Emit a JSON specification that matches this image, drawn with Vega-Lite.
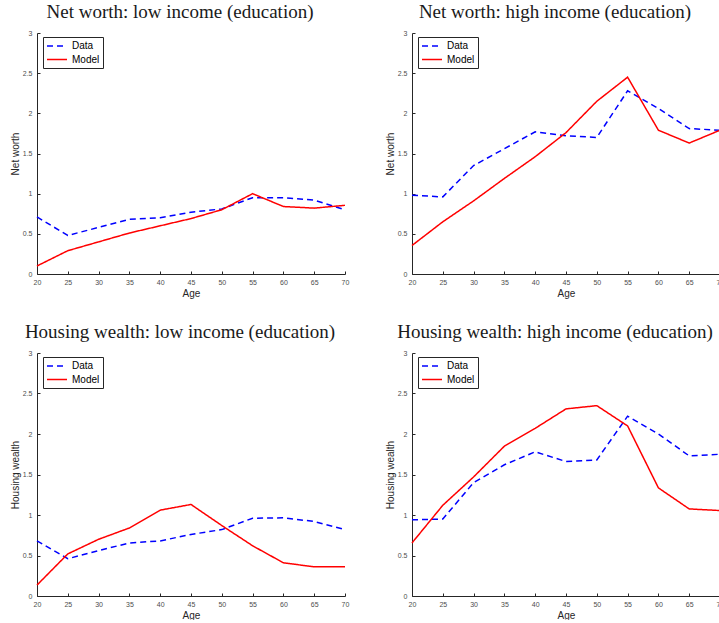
{
  "$schema": "https://vega.github.io/schema/vega-lite/v6.json",
  "background": "white",
  "padding": {"left": 10, "top": 3, "right": 0, "bottom": 0},
  "datasets": {
    "d": [
      {"panel": "A", "age": 20, "series": "Data", "value": 0.71},
      {"panel": "A", "age": 25, "series": "Data", "value": 0.48},
      {"panel": "A", "age": 30, "series": "Data", "value": 0.58},
      {"panel": "A", "age": 35, "series": "Data", "value": 0.68},
      {"panel": "A", "age": 40, "series": "Data", "value": 0.70},
      {"panel": "A", "age": 45, "series": "Data", "value": 0.77},
      {"panel": "A", "age": 50, "series": "Data", "value": 0.81},
      {"panel": "A", "age": 55, "series": "Data", "value": 0.95},
      {"panel": "A", "age": 60, "series": "Data", "value": 0.95},
      {"panel": "A", "age": 65, "series": "Data", "value": 0.92},
      {"panel": "A", "age": 70, "series": "Data", "value": 0.80},
      {"panel": "A", "age": 20, "series": "Model", "value": 0.10},
      {"panel": "A", "age": 25, "series": "Model", "value": 0.29},
      {"panel": "A", "age": 30, "series": "Model", "value": 0.40},
      {"panel": "A", "age": 35, "series": "Model", "value": 0.51},
      {"panel": "A", "age": 40, "series": "Model", "value": 0.60},
      {"panel": "A", "age": 45, "series": "Model", "value": 0.69},
      {"panel": "A", "age": 50, "series": "Model", "value": 0.80},
      {"panel": "A", "age": 55, "series": "Model", "value": 1.00},
      {"panel": "A", "age": 60, "series": "Model", "value": 0.84},
      {"panel": "A", "age": 65, "series": "Model", "value": 0.82},
      {"panel": "A", "age": 70, "series": "Model", "value": 0.855},
      {"panel": "B", "age": 20, "series": "Data", "value": 0.98},
      {"panel": "B", "age": 25, "series": "Data", "value": 0.96},
      {"panel": "B", "age": 30, "series": "Data", "value": 1.35},
      {"panel": "B", "age": 35, "series": "Data", "value": 1.56},
      {"panel": "B", "age": 40, "series": "Data", "value": 1.77},
      {"panel": "B", "age": 45, "series": "Data", "value": 1.72},
      {"panel": "B", "age": 50, "series": "Data", "value": 1.70},
      {"panel": "B", "age": 55, "series": "Data", "value": 2.28},
      {"panel": "B", "age": 60, "series": "Data", "value": 2.06},
      {"panel": "B", "age": 65, "series": "Data", "value": 1.81},
      {"panel": "B", "age": 70, "series": "Data", "value": 1.79},
      {"panel": "B", "age": 20, "series": "Model", "value": 0.355},
      {"panel": "B", "age": 25, "series": "Model", "value": 0.65},
      {"panel": "B", "age": 30, "series": "Model", "value": 0.91},
      {"panel": "B", "age": 35, "series": "Model", "value": 1.19},
      {"panel": "B", "age": 40, "series": "Model", "value": 1.46},
      {"panel": "B", "age": 45, "series": "Model", "value": 1.76},
      {"panel": "B", "age": 50, "series": "Model", "value": 2.15},
      {"panel": "B", "age": 55, "series": "Model", "value": 2.45},
      {"panel": "B", "age": 60, "series": "Model", "value": 1.79},
      {"panel": "B", "age": 65, "series": "Model", "value": 1.63},
      {"panel": "B", "age": 70, "series": "Model", "value": 1.79},
      {"panel": "C", "age": 20, "series": "Data", "value": 0.68},
      {"panel": "C", "age": 25, "series": "Data", "value": 0.46},
      {"panel": "C", "age": 30, "series": "Data", "value": 0.56},
      {"panel": "C", "age": 35, "series": "Data", "value": 0.655},
      {"panel": "C", "age": 40, "series": "Data", "value": 0.68},
      {"panel": "C", "age": 45, "series": "Data", "value": 0.76},
      {"panel": "C", "age": 50, "series": "Data", "value": 0.82},
      {"panel": "C", "age": 55, "series": "Data", "value": 0.96},
      {"panel": "C", "age": 60, "series": "Data", "value": 0.965},
      {"panel": "C", "age": 65, "series": "Data", "value": 0.92},
      {"panel": "C", "age": 70, "series": "Data", "value": 0.82},
      {"panel": "C", "age": 20, "series": "Model", "value": 0.135},
      {"panel": "C", "age": 25, "series": "Model", "value": 0.52},
      {"panel": "C", "age": 30, "series": "Model", "value": 0.70},
      {"panel": "C", "age": 35, "series": "Model", "value": 0.84},
      {"panel": "C", "age": 40, "series": "Model", "value": 1.06},
      {"panel": "C", "age": 45, "series": "Model", "value": 1.13},
      {"panel": "C", "age": 50, "series": "Model", "value": 0.87},
      {"panel": "C", "age": 55, "series": "Model", "value": 0.62},
      {"panel": "C", "age": 60, "series": "Model", "value": 0.41},
      {"panel": "C", "age": 65, "series": "Model", "value": 0.36},
      {"panel": "C", "age": 70, "series": "Model", "value": 0.36},
      {"panel": "D", "age": 20, "series": "Data", "value": 0.94},
      {"panel": "D", "age": 25, "series": "Data", "value": 0.95},
      {"panel": "D", "age": 30, "series": "Data", "value": 1.40},
      {"panel": "D", "age": 35, "series": "Data", "value": 1.62},
      {"panel": "D", "age": 40, "series": "Data", "value": 1.78},
      {"panel": "D", "age": 45, "series": "Data", "value": 1.66},
      {"panel": "D", "age": 50, "series": "Data", "value": 1.68},
      {"panel": "D", "age": 55, "series": "Data", "value": 2.22},
      {"panel": "D", "age": 60, "series": "Data", "value": 2.00},
      {"panel": "D", "age": 65, "series": "Data", "value": 1.73},
      {"panel": "D", "age": 70, "series": "Data", "value": 1.75},
      {"panel": "D", "age": 20, "series": "Model", "value": 0.655},
      {"panel": "D", "age": 25, "series": "Model", "value": 1.12},
      {"panel": "D", "age": 30, "series": "Model", "value": 1.47},
      {"panel": "D", "age": 35, "series": "Model", "value": 1.85},
      {"panel": "D", "age": 40, "series": "Model", "value": 2.07},
      {"panel": "D", "age": 45, "series": "Model", "value": 2.31},
      {"panel": "D", "age": 50, "series": "Model", "value": 2.35},
      {"panel": "D", "age": 55, "series": "Model", "value": 2.10},
      {"panel": "D", "age": 60, "series": "Model", "value": 1.335},
      {"panel": "D", "age": 65, "series": "Model", "value": 1.075},
      {"panel": "D", "age": 70, "series": "Model", "value": 1.055}
    ]
  },
  "data": {"name": "d"},
  "bounds": "flush",
  "columns": 2,
  "spacing": {"row": 79, "column": 67},
  "resolve": {"scale": {"color": "independent", "strokeDash": "independent"}, "legend": {"color": "independent", "strokeDash": "independent"}},
  "concat": [
    {
      "width": 308, "height": 241,
      "title": {"text": "Net worth: low income (education)"},
      "transform": [{"filter": "datum.panel === 'A'"}],
      "mark": {"type": "line", "strokeWidth": 1.5},
      "encoding": {
        "x": {"field": "age", "type": "quantitative", "scale": {"domain": [20, 70], "nice": false, "zero": false}, "axis": {"values": [20, 25, 30, 35, 40, 45, 50, 55, 60, 65, 70], "title": "Age"}},
        "y": {"field": "value", "type": "quantitative", "scale": {"domain": [0, 3], "nice": false}, "axis": {"values": [0, 0.5, 1, 1.5, 2, 2.5, 3], "format": "~g", "title": "Net worth"}},
        "color": {"field": "series", "type": "nominal", "scale": {"domain": ["Data", "Model"], "range": ["#0000ff", "#ff0000"]}, "legend": {"title": null}},
        "strokeDash": {"field": "series", "type": "nominal", "scale": {"domain": ["Data", "Model"], "range": [[6, 4], [1, 0]]}, "legend": {"title": null}}
      }
    },
    {
      "width": 308, "height": 241,
      "title": {"text": "Net worth: high income (education)"},
      "transform": [{"filter": "datum.panel === 'B'"}],
      "mark": {"type": "line", "strokeWidth": 1.5},
      "encoding": {
        "x": {"field": "age", "type": "quantitative", "scale": {"domain": [20, 70], "nice": false, "zero": false}, "axis": {"values": [20, 25, 30, 35, 40, 45, 50, 55, 60, 65, 70], "title": "Age"}},
        "y": {"field": "value", "type": "quantitative", "scale": {"domain": [0, 3], "nice": false}, "axis": {"values": [0, 0.5, 1, 1.5, 2, 2.5, 3], "format": "~g", "title": "Net worth"}},
        "color": {"field": "series", "type": "nominal", "scale": {"domain": ["Data", "Model"], "range": ["#0000ff", "#ff0000"]}, "legend": {"title": null}},
        "strokeDash": {"field": "series", "type": "nominal", "scale": {"domain": ["Data", "Model"], "range": [[6, 4], [1, 0]]}, "legend": {"title": null}}
      }
    },
    {
      "width": 308, "height": 243,
      "title": {"text": "Housing wealth: low income (education)"},
      "transform": [{"filter": "datum.panel === 'C'"}],
      "mark": {"type": "line", "strokeWidth": 1.5},
      "encoding": {
        "x": {"field": "age", "type": "quantitative", "scale": {"domain": [20, 70], "nice": false, "zero": false}, "axis": {"values": [20, 25, 30, 35, 40, 45, 50, 55, 60, 65, 70], "title": "Age"}},
        "y": {"field": "value", "type": "quantitative", "scale": {"domain": [0, 3], "nice": false}, "axis": {"values": [0, 0.5, 1, 1.5, 2, 2.5, 3], "format": "~g", "title": "Housing wealth"}},
        "color": {"field": "series", "type": "nominal", "scale": {"domain": ["Data", "Model"], "range": ["#0000ff", "#ff0000"]}, "legend": {"title": null}},
        "strokeDash": {"field": "series", "type": "nominal", "scale": {"domain": ["Data", "Model"], "range": [[6, 4], [1, 0]]}, "legend": {"title": null}}
      }
    },
    {
      "width": 308, "height": 243,
      "title": {"text": "Housing wealth: high income (education)"},
      "transform": [{"filter": "datum.panel === 'D'"}],
      "mark": {"type": "line", "strokeWidth": 1.5},
      "encoding": {
        "x": {"field": "age", "type": "quantitative", "scale": {"domain": [20, 70], "nice": false, "zero": false}, "axis": {"values": [20, 25, 30, 35, 40, 45, 50, 55, 60, 65, 70], "title": "Age"}},
        "y": {"field": "value", "type": "quantitative", "scale": {"domain": [0, 3], "nice": false}, "axis": {"values": [0, 0.5, 1, 1.5, 2, 2.5, 3], "format": "~g", "title": "Housing wealth"}},
        "color": {"field": "series", "type": "nominal", "scale": {"domain": ["Data", "Model"], "range": ["#0000ff", "#ff0000"]}, "legend": {"title": null}},
        "strokeDash": {"field": "series", "type": "nominal", "scale": {"domain": ["Data", "Model"], "range": [[6, 4], [1, 0]]}, "legend": {"title": null}}
      }
    }
  ],
  "config": {
    "view": {"stroke": null},
    "axis": {
      "grid": false,
      "domainColor": "#262626",
      "domainWidth": 1,
      "tickColor": "#262626",
      "tickWidth": 1,
      "tickSize": -3,
      "labelFont": "Liberation Sans",
      "labelFontSize": 7,
      "labelColor": "#4d4d4d",
      "titleFont": "Liberation Sans",
      "titleFontSize": 10,
      "titleFontWeight": "normal",
      "titleColor": "#262626"
    },
    "axisX": {"labelPadding": 7, "titlePadding": 3, "labelFlush": false},
    "axisY": {"labelPadding": 8, "titlePadding": 2},
    "title": {
      "font": "Liberation Serif",
      "fontSize": 19,
      "fontWeight": "normal",
      "color": "#1a1a1a",
      "frame": "group",
      "anchor": "middle",
      "baseline": "alphabetic",
      "offset": 7,
      "dx": -11
    },
    "legend": {
      "orient": "none",
      "legendX": 6,
      "legendY": 4,
      "strokeColor": "#262626",
      "fillColor": "white",
      "padding": 3,
      "symbolType": "M-1,0H3",
      "symbolSize": 100,
      "symbolStrokeWidth": 1.5,
      "labelFont": "Liberation Sans",
      "labelFontSize": 10,
      "labelColor": "#000000",
      "labelOffset": 14,
      "rowPadding": 2.5
    }
  }
}
